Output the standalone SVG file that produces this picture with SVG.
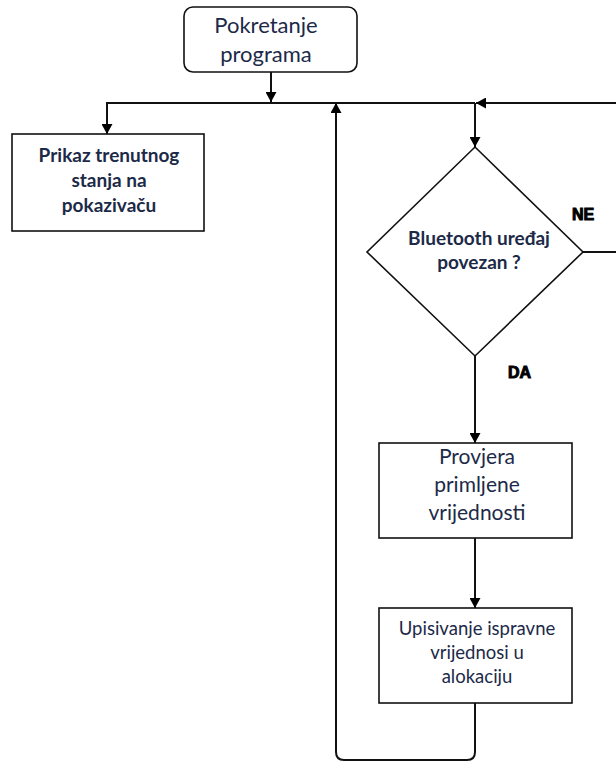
<svg xmlns="http://www.w3.org/2000/svg" width="616" height="761" viewBox="0 0 616 761">
<defs>
<marker id="arr" markerUnits="userSpaceOnUse" markerWidth="11" markerHeight="11" refX="10" refY="5.5" orient="auto" viewBox="0 0 11 11">
<path d="M0,0 L10,5.5 L0,11 z" fill="#000"/>
</marker>
<style>
.box{fill:#fff;stroke:#111;stroke-width:1.6}
.ln{fill:none;stroke:#111;stroke-width:2}
.t{font-family:Lato,"Liberation Sans",sans-serif;fill:#1c2a48;text-anchor:middle}
.b{font-weight:bold}
.lab{font-family:"Liberation Sans",Arial,sans-serif;font-weight:900;fill:#000;font-size:16px;stroke:#000;stroke-width:1}
</style>
</defs>
<rect width="616" height="761" fill="#fff"/>
<g id="connectors">
<path class="ln" d="M271 72 V102" marker-end="url(#arr)"/>
<path class="ln" d="M336 103 H107 V134" marker-end="url(#arr)"/>
<path class="ln" d="M336 103 H475"/>
<path class="ln" d="M475 103 V147" marker-end="url(#arr)"/>
<path class="ln" d="M583 252 H630 V103 H476" marker-end="url(#arr)"/>
<path class="ln" d="M475 356 V443" marker-end="url(#arr)"/>
<path class="ln" d="M475 538 V608" marker-end="url(#arr)"/>
<path class="ln" d="M475 703 V752 Q475 760 467 760 H344 Q336 760 336 752 V103" marker-end="url(#arr)"/>
</g>
<g id="start">
<rect class="box" x="184" y="7" width="173" height="65" rx="9"/>
<text class="t" x="266" y="33" font-size="22">Pokretanje</text>
<text class="t" x="266" y="62" font-size="22">programa</text>
</g>
<g id="display">
<rect class="box" x="12" y="134" width="192" height="97"/>
<text class="t b" x="109" y="162" font-size="19">Prikaz trenutnog</text>
<text class="t b" x="109" y="187" font-size="19">stanja na</text>
<text class="t b" x="109" y="212" font-size="19">pokazivaču</text>
</g>
<g id="decision">
<polygon class="box" points="475,147 583,252 475,356 367,252"/>
<text class="t b" x="479" y="245" font-size="19">Bluetooth uređaj</text>
<text class="t b" x="479" y="269" font-size="19">povezan ?</text>
</g>
<g id="check">
<rect class="box" x="379" y="443" width="193" height="95"/>
<text class="t" x="477" y="464" font-size="21">Provjera</text>
<text class="t" x="477" y="492" font-size="21">primljene</text>
<text class="t" x="477" y="520" font-size="21">vrijednosti</text>
</g>
<g id="write">
<rect class="box" x="379" y="608" width="193" height="95"/>
<text class="t" x="477" y="635" font-size="18.5">Upisivanje ispravne</text>
<text class="t" x="477" y="659" font-size="18.5">vrijednosi u</text>
<text class="t" x="477" y="683" font-size="18.5">alokaciju</text>
</g>
<text class="lab" x="572" y="220">NE</text>
<text class="lab" x="508" y="378">DA</text>
</svg>
